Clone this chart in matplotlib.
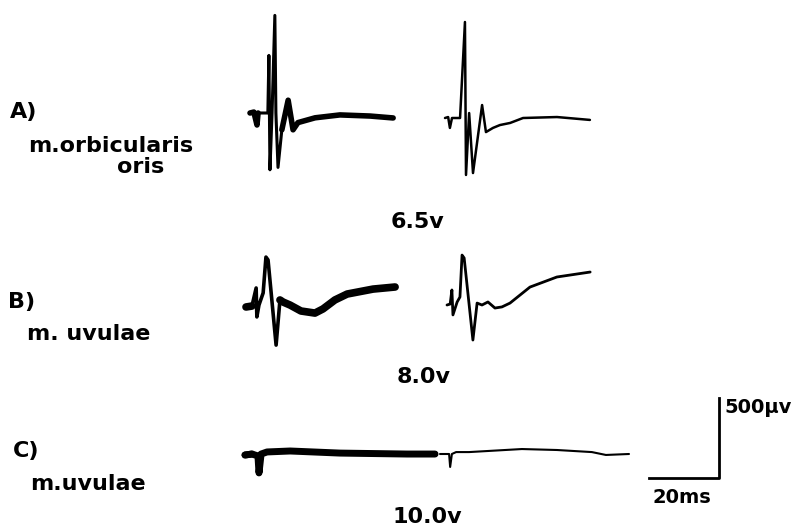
import numpy as np
import matplotlib.pyplot as plt

# EMG responses, time in ms after trace start, amplitude in microvolts (up = positive)
# A) m. orbicularis oris, 6.5 v
a1_t = [0, 1.1, 2.0, 2.3, 5.1, 5.4, 5.7, 6.3, 7.1, 7.4, 8.0, 9.1, 10.9, 12.3, 13.7, 18.6, 25.7, 34.3, 40.9]
a1_v = [0, 6, -75, 0, 0, 360, -355, 0, 610, 0, -340, -105, 80, -105, -60, -30, -12, -19, -31]
a2_t = [0, 0.9, 1.4, 2.0, 4.3, 5.7, 6.0, 6.9, 8.0, 10.6, 11.7, 13.7, 15.7, 18.6, 22.3, 32.0, 41.4]
a2_v = [0, 6, -62, 0, 0, 600, -356, 31, -344, 81, -88, -62, -44, -31, 0, 6, -12]

# B) m. uvulae, 8.0 v
b1_t = [0, 1.7, 2.9, 3.1, 3.7, 4.9, 5.7, 6.3, 8.6, 9.7, 10.6, 12.6, 15.7, 19.7, 22.0, 25.4, 28.9, 36.3, 42.6]
b1_v = [0, 6, 119, -62, 12, 88, 312, 294, -238, 44, 31, 12, -25, -38, -12, 44, 81, 112, 125]
b2_t = [0, 0.9, 1.4, 1.7, 2.9, 3.7, 4.3, 4.9, 7.4, 8.6, 10.0, 11.7, 13.7, 15.7, 18.0, 23.7, 31.4, 40.9]
b2_v = [0, 6, 94, -62, 19, 50, 312, 294, -219, 12, 0, 19, -19, -12, 12, 112, 175, 206]

# C) m. uvulae, 10.0 v
c1_t = [0, 2.0, 3.7, 4.0, 4.6, 6.3, 12.9, 27.1, 46.3, 54.3]
c1_v = [0, 6, -6, -112, 6, 19, 25, 12, 6, 6]
c2_t = [0, 2.6, 2.9, 3.4, 4.6, 8.3, 23.4, 33.4, 43.4, 47.4, 54.0]
c2_v = [0, 0, -81, 0, 12, 12, 31, 25, 12, -6, 0]

scale_ms = 20
scale_uv = 500

# figure is laid out in pixels, 3.5 px per ms and 6.25 uV per px
PX_MS = 3.5
UV_PX = 6.25


def pos(x, y):
    return x / PX_MS, -y * UV_PX


fig = plt.figure(figsize=(7.92, 5.26), dpi=100)
ax = fig.add_axes([0, 0, 1, 1])
ax.set_xlim(0, 792 / PX_MS)
ax.set_ylim(-526 * UV_PX, 0)
ax.axis('off')


def trace(t, v, origin, lw, thick=None, tail=None):
    x0, y0 = pos(*origin)
    t = np.array(t) + x0
    v = np.array(v) + y0
    ax.plot(t, v, color='black', lw=lw, solid_capstyle='round', solid_joinstyle='round')
    if thick is not None:
        # slow part of the sweep is written thicker on the film
        m = t >= x0 + tail
        ax.plot(t[m], v[m], color='black', lw=thick, solid_capstyle='round')
        s = t <= x0 + 2.5
        ax.plot(t[s], v[s], color='black', lw=thick, solid_capstyle='round')


trace(a1_t, a1_v, (250, 113), 2.2, thick=4.0, tail=9.0)
trace(a2_t, a2_v, (445, 118), 1.8)
trace(b1_t, b1_v, (246, 307), 2.6, thick=5.5, tail=9.5)
trace(b2_t, b2_v, (447, 305), 2.0)
trace(c1_t, c1_v, (245, 455), 2.5, thick=5.0, tail=0)
trace(c2_t, c2_v, (440, 454), 1.5)

# calibration bar
cx, cy = pos(719, 478)
ax.plot([cx - scale_ms, cx, cx], [cy, cy, cy + scale_uv], color='black', lw=2.0)

bold = dict(family='DejaVu Sans', weight='bold', color='black', va='baseline')

ax.text(*pos(10, 118), 'A)', fontsize=16, **bold)
ax.text(*pos(28, 152), 'm.orbicularis', fontsize=16, **bold)
ax.text(*pos(117, 173), 'oris', fontsize=16, **bold)
ax.text(*pos(8, 308), 'B)', fontsize=16, **bold)
ax.text(*pos(27, 340), 'm. uvulae', fontsize=16, **bold)
ax.text(*pos(13, 457), 'C)', fontsize=16, **bold)
ax.text(*pos(30, 490), 'm.uvulae', fontsize=16, **bold)

ax.text(*pos(417, 228), '6.5v', fontsize=16, ha='center', **bold)
ax.text(*pos(424, 383), '8.0v', fontsize=16, ha='center', **bold)
ax.text(*pos(427, 523), '10.0v', fontsize=16, ha='center', **bold)

ax.text(*pos(724, 413), '500µv', fontsize=14, ha='left', **bold)
ax.text(*pos(653, 503), '20ms', fontsize=14, ha='left', **bold)

fig.savefig('out.png', dpi=100)
